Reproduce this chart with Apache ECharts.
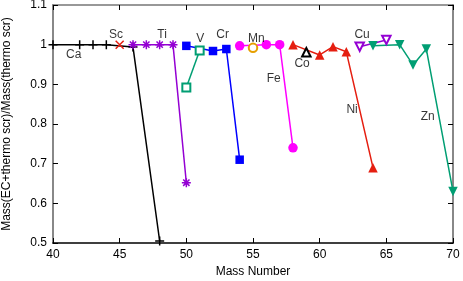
<!DOCTYPE html>
<html><head><meta charset="utf-8">
<script src="https://cdn.jsdelivr.net/npm/echarts@6/dist/echarts.min.js"></script>
<style>html,body{margin:0;padding:0;background:#fff}#c{width:463px;height:281px}</style>
</head><body><div id="c"></div>
<script>
const caMass=[40,42,43,44,46,48], caRatio=[1.0,1.0,1.0,1.0,0.994,0.505];
const scMass=[45], scRatio=[1.0];
const tiMass=[46,47,48,49,50], tiRatio=[1.0,1.0,1.0,1.0,0.652];
const vMass=[50,51], vRatio=[0.892,0.985];
const crMass=[50,52,53,54], crRatio=[0.997,0.984,0.989,0.71];
const mnMass=[55], mnRatio=[0.992];
const feMass=[54,56,57,58], feRatio=[0.997,1.0,1.0,0.74];
const coMass=[59], coRatio=[0.981];
const niMass=[58,60,61,62,64], niRatio=[1.0,0.974,0.995,0.982,0.69];
const cuMass=[63,65], cuRatio=[0.995,1.012];
const znMass=[64,66,67,68,70], znRatio=[0.997,1.0,0.949,0.989,0.63];
const labelText=['Ca','Sc','Ti','V','Cr','Mn','Fe','Co','Cu','Ni','Zn'];
const labelMass=[41.55,44.72,48.18,51.05,52.72,55.25,56.55,58.68,63.18,62.43,68.1];
const labelRatio=[0.974,1.026,1.026,1.014,1.024,1.016,0.915,0.953,1.026,0.837,0.819];

const PLUS='path://M0,5L10,5M5,0L5,10';
const CROSS='path://M0,0L10,10M10,0L0,10';
const STAR='path://M0,5L10,5M5,0L5,10M1.5,1.5L8.5,8.5M8.5,1.5L1.5,8.5';
const zip=(a,b)=>a.map((v,i)=>[v,b[i]]);

function mk(name,mass,ratio,color,symbol,size,opts){
  const s={type:'line',name:name,data:zip(mass,ratio),symbol:symbol,symbolSize:size,
    showAllSymbol:true,animation:false,
    lineStyle:{color:color,width:1.5},
    itemStyle:{color:color,borderColor:color,borderWidth:1.5}};
  return Object.assign(s,opts||{});
}
const series=[
  mk('Ca',caMass,caRatio,'#000000',PLUS,9),
  mk('Sc',scMass,scRatio,'#e51e10',CROSS,8),
  mk('Ti',tiMass,tiRatio,'#9400d3',STAR,9),
  mk('V',vMass,vRatio,'#009e73','emptyRect',8),
  mk('Cr',crMass,crRatio,'#0000ff','rect',8.5,{itemStyle:{color:'#0000ff'}}),
  mk('Mn',mnMass,mnRatio,'#e69f00','emptyCircle',8.5),
  mk('Fe',feMass,feRatio,'#ff00ff','circle',9.5,{itemStyle:{color:'#ff00ff'}}),
  mk('Co',coMass,coRatio,'#000000','emptyTriangle',8.5),
  mk('Ni',niMass,niRatio,'#e51e10','triangle',9.5,{itemStyle:{color:'#e51e10'}}),
  mk('Cu',cuMass,cuRatio,'#9400d3','emptyTriangle',8.5,{symbolRotate:180}),
  mk('Zn',znMass,znRatio,'#009e73','triangle',9.5,{symbolRotate:180,itemStyle:{color:'#009e73'}}),
  {type:'scatter',name:'labels',symbolSize:0,animation:false,silent:true,
   data:labelText.map((t,i)=>({value:[labelMass[i],labelRatio[i]],name:t})),
   label:{show:true,position:'inside',formatter:p=>p.name,color:'#000',fontSize:12,fontFamily:'Liberation Sans'},
   z:10}
];
const ch=echarts.init(document.getElementById('c'),null,{renderer:'canvas'});
ch.setOption({
  animation:false,
  grid:{left:53,right:10,top:5,bottom:38,outerBoundsMode:'none',containLabel:false},
  xAxis:[{type:'value',min:40,max:70,interval:5,position:'bottom',
    name:'Mass Number',nameLocation:'middle',nameGap:22,
    nameTextStyle:{color:'#000',fontSize:12,fontFamily:'Liberation Sans'},
    axisLine:{lineStyle:{color:'#000',width:1.5}},
    axisTick:{inside:true,length:5,lineStyle:{color:'#000'}},
    axisLabel:{margin:6,color:'#000',fontSize:12,fontFamily:'Liberation Sans'},
    splitLine:{show:false}},
   {type:'value',min:40,max:70,interval:5,position:'top',
    axisLine:{lineStyle:{color:'#777',width:1.5}},
    axisTick:{inside:true,length:5,lineStyle:{color:'#000'}},
    axisLabel:{show:false},splitLine:{show:false}}],
  yAxis:[{type:'value',min:0.5,max:1.1,interval:0.1,position:'left',
    name:'Mass(EC+thermo scr)/Mass(thermo scr)',nameLocation:'middle',nameGap:40,
    nameTextStyle:{color:'#000',fontSize:12,fontFamily:'Liberation Sans'},
    axisLine:{show:true,lineStyle:{color:'#888',width:2}},
    axisTick:{inside:true,length:5,lineStyle:{color:'#000'}},
    axisLabel:{margin:6,color:'#000',fontSize:12,fontFamily:'Liberation Sans',formatter:v=>String(+v.toFixed(2))},
    splitLine:{show:false}},
   {type:'value',min:0.5,max:1.1,interval:0.1,position:'right',
    axisLine:{show:true,lineStyle:{color:'#888',width:2}},
    axisTick:{inside:true,length:5,lineStyle:{color:'#000'}},
    axisLabel:{show:false},splitLine:{show:false}}],
  series:series
});
</script></body></html>
